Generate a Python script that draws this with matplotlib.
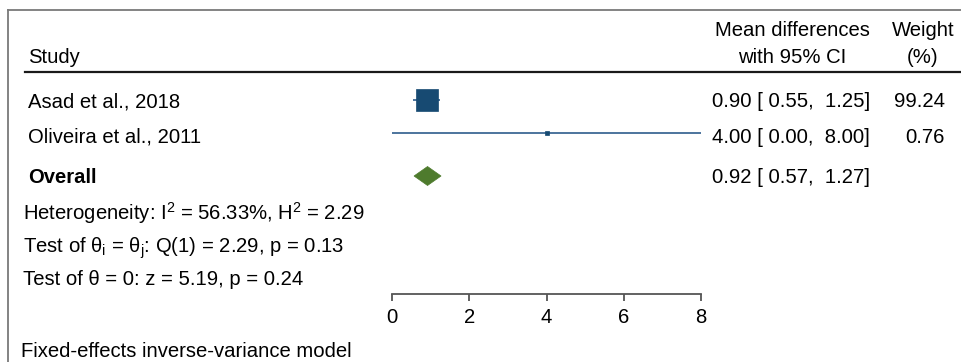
import matplotlib
matplotlib.use("Agg")
import matplotlib.pyplot as plt
from matplotlib.patches import Polygon
import numpy as np

plt.rcParams['font.family'] = ['Liberation Sans', 'DejaVu Sans']
plt.rcParams['mathtext.fontset'] = 'custom'
plt.rcParams['mathtext.rm'] = 'Liberation Sans'
plt.rcParams['mathtext.it'] = 'Liberation Sans:italic'
plt.rcParams['mathtext.bf'] = 'Liberation Sans:bold'

# ---- data ----
studies = ["Asad et al., 2018", "Oliveira et al., 2011"]
est = [0.90, 4.00]
lo = [0.55, 0.00]
hi = [1.25, 8.00]
weights = [99.24, 0.76]
overall_label = "Overall"
overall_est = 0.92
overall_lo = 0.57
overall_hi = 1.27
xticks = [0, 2, 4, 6, 8]
stats_lines = [
    r"Heterogeneity: I$^{\mathrm{2}}$ = 56.33%, H$^{\mathrm{2}}$ = 2.29",
    r"Test of $\mathrm{θ}_{\mathrm{i}}$ = $\mathrm{θ}_{\mathrm{j}}$: Q(1) = 2.29, p = 0.13",
    "Test of θ = 0: z = 5.19, p = 0.24",
]
footer = "Fixed-effects inverse-variance model"

W, H = 961, 362
fig = plt.figure(figsize=(W / 100, H / 100), dpi=100)
FS = 14.6

def ft(x, y, s, **kw):
    kw.setdefault('fontsize', FS)
    kw.setdefault('va', 'baseline')
    fig.text(x / W, 1 - y / H, s, **kw)

# border (top and left)
fig.add_artist(plt.Line2D([8 / W, 1.0], [1 - 10 / H, 1 - 10 / H], color='#7a7a7a', lw=1.3))
fig.add_artist(plt.Line2D([8 / W, 8 / W], [0, 1 - 10 / H], color='#7a7a7a', lw=1.3))
# header rule
fig.add_artist(plt.Line2D([25 / W, 1.0], [1 - 72 / H, 1 - 72 / H], color='#1a1a1a', lw=1.6))

# plot axes: x 392..701 px, y 72..294 px
x0, x1 = 392, 701
ytop, ybot = 72, 294
ax = fig.add_axes([x0 / W, 1 - ybot / H, (x1 - x0) / W, (ybot - ytop) / H])
ax.set_xlim(0, 8)
ax.set_ylim(ybot, ytop)
ax.patch.set_alpha(0)
for s in ['top', 'right', 'left']:
    ax.spines[s].set_visible(False)
ax.spines['bottom'].set_color('#555555')
ax.spines['bottom'].set_linewidth(1.3)
ax.set_yticks([])
ax.set_xticks(xticks)
ax.tick_params(axis='x', direction='out', length=5, width=1.3, color='#555555',
               labelsize=FS, pad=5)

row_y = [100, 133]
ov_y = 176
navy = '#174a72'
line_c = '#2d5c8c'
green = '#4e7b2d'
for i in range(len(studies)):
    ax.plot([lo[i], hi[i]], [row_y[i], row_y[i]], color=line_c, lw=1.2, clip_on=False,
            solid_capstyle='butt', zorder=2)
    ms = max(1.62 * np.sqrt(weights[i]), 3.0)
    ax.plot([est[i]], [row_y[i]], marker='s', ms=ms, color=navy, mec=navy, mew=0.5,
            clip_on=False, zorder=3)

hd = 9.5
dia = Polygon([[overall_lo, ov_y], [overall_est, ov_y - hd], [overall_hi, ov_y],
               [overall_est, ov_y + hd]], closed=True, fc=green, ec=green, lw=0.5,
              clip_on=False)
ax.add_patch(dia)

# left texts
ft(28, 63, "Study")
ft(28, 107, studies[0])
ft(28, 143, studies[1])
ft(28, 183, overall_label, fontweight='bold')
for yy, s in zip([220, 253, 285], stats_lines):
    ft(23, yy, s)
ft(21, 357, footer)

# right columns
ft(792, 36, "Mean differences", ha='center')
ft(792, 63, "with 95% CI", ha='center')
ft(923, 36, "Weight", ha='center')
ft(923, 63, "(%)", ha='center')

for yy, e, l, h in zip([107, 143], est, lo, hi):
    ft(712, yy, f"{e:.2f} [ {l:.2f},  {h:.2f}]")
ft(712, 183, f"{overall_est:.2f} [ {overall_lo:.2f},  {overall_hi:.2f}]")
for yy, w in zip([107, 143], weights):
    ft(945, yy, f"{w:.2f}", ha='right')

fig.savefig("out.png", dpi=100)
